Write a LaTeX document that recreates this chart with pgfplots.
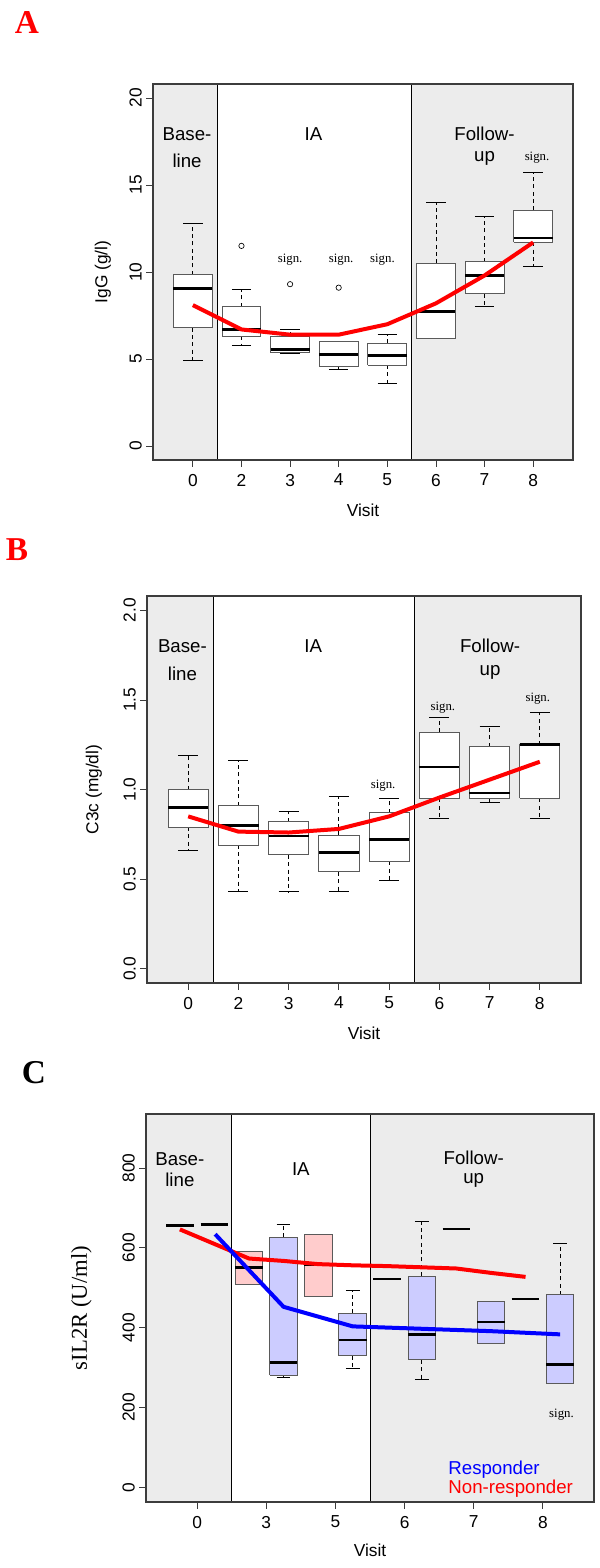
\documentclass[border=0pt]{standalone}
\usepackage{fontspec}
\setmainfont{Liberation Sans}
\newfontfamily\tnr{Liberation Serif}
\usepackage{pgfplots}
\pgfplotsset{compat=1.18}

\definecolor{bggray}{RGB}{236,236,236}
\definecolor{framec}{RGB}{60,60,60}
\definecolor{boxline}{RGB}{90,90,90}
\definecolor{blueF}{RGB}{204,204,255}
\definecolor{pinkF}{RGB}{255,204,204}

\newcommand{\tickfont}{\fontsize{13}{15}\selectfont}
\newcommand{\regfont}{\fontsize{14}{16}\selectfont}
\newcommand{\signfont}{\tnr\fontsize{9.6}{11}\selectfont}

\pgfplotsset{
  rpanel/.style={
    scale only axis, axis on top, anchor=south west,
    axis line style={framec, line width=0.8pt},
    tick style={framec, line width=0.6pt},
    tick align=outside, major tick length=4.9pt,
    tick pos=left,
    unbounded coords=jump,
    /pgf/number format/assume math mode=true,
    ticklabel style={font=\tickfont},
    yticklabel style={rotate=90, anchor=south},
    xticklabel style={anchor=north, yshift=-2pt},
    every axis x label/.style={at={(axis description cs:0.5,0)}, yshift=-37.5pt, anchor=center, font=\tickfont},
  },
  ylab/.style={every axis y label/.style={at={(axis description cs:0,0.5)}, xshift=-#1, rotate=90, anchor=center, font=\tickfont}},
  medline/.style={black, line width=2pt, no marks},
  whisk/.style={black, line width=0.6pt, dash pattern=on 3pt off 2.5pt, no marks},
  staple/.style={black, line width=0.6pt, no marks},
  wbox/.style={draw=boxline, line width=0.7pt, fill=white, no marks},
  pbox/.style={draw=boxline, line width=0.7pt, fill=pinkF, no marks},
  bbox/.style={draw=boxline, line width=0.7pt, fill=blueF, no marks},
}
\tikzset{reg/.style={font=\regfont, inner sep=0pt}}

\begin{document}
\begin{tikzpicture}
\useasboundingbox (0,0) rectangle (450pt,-1176pt);

\node[font=\tnr\bfseries\fontsize{25}{28}\selectfont, text=red] at (20.25pt,-16.5pt) {A};
\node[font=\tnr\bfseries\fontsize{25}{28}\selectfont, text=red] at (12.75pt,-412.5pt) {B};
\node[font=\tnr\bfseries\fontsize{25}{28}\selectfont, text=black] at (25.5pt,-804.75pt) {C};

% ---------------- Panel A ----------------
\begin{axis}[rpanel, ylab=37.5pt, at={(114.75pt,-345pt)}, width=315pt, height=282pt,
  xmin=0.18, xmax=8.82, ymin=-0.8, ymax=20.8,
  xtick={1,2,3,4,5,6,7,8}, xticklabels={0,2,3,4,5,6,7,8},
  ytick={0,5,10,15,20}, yticklabels={0,5,10,15,20},
  xlabel={Visit}, ylabel={IgG (g/l)}]
\fill[bggray] (axis cs:0,-5) rectangle (axis cs:1.5,25);
\fill[bggray] (axis cs:5.5,-5) rectangle (axis cs:9,25);
\draw[black, line width=0.6pt] (axis cs:1.5,-5) -- (axis cs:1.5,25);
\draw[black, line width=0.6pt] (axis cs:5.5,-5) -- (axis cs:5.5,25);
% whiskers (upper then lower, per visit)
\addplot[whisk] coordinates {
 (1,9.85) (1,12.8) (1,nan) (1,6.8) (1,4.9) (1,nan)
 (2,8.0) (2,9.0) (2,nan) (2,6.3) (2,5.8) (2,nan)
 (3,6.3) (3,6.7) (3,nan) (3,5.35) (3,5.3) (3,nan)
 (4,6.0) (4,6.0) (4,nan) (4,4.55) (4,4.4) (4,nan)
 (5,5.9) (5,6.4) (5,nan) (5,4.65) (5,3.6) (5,nan)
 (6,10.5) (6,14.0) (6,nan) (6,6.2) (6,6.2) (6,nan)
 (7,10.6) (7,13.2) (7,nan) (7,8.75) (7,8.0) (7,nan)
 (8,13.55) (8,15.7) (8,nan) (8,11.7) (8,10.3)};
\addplot[staple] coordinates {
 (0.8,12.8) (1.2,12.8) (1.2,nan) (0.8,4.9) (1.2,4.9) (1.2,nan)
 (1.8,9.0) (2.2,9.0) (2.2,nan) (1.8,5.8) (2.2,5.8) (2.2,nan)
 (2.8,6.7) (3.2,6.7) (3.2,nan) (2.8,5.3) (3.2,5.3) (3.2,nan)
 (3.8,6.0) (4.2,6.0) (4.2,nan) (3.8,4.4) (4.2,4.4) (4.2,nan)
 (4.8,6.4) (5.2,6.4) (5.2,nan) (4.8,3.6) (5.2,3.6) (5.2,nan)
 (5.8,14.0) (6.2,14.0) (6.2,nan) (5.8,6.2) (6.2,6.2) (6.2,nan)
 (6.8,13.2) (7.2,13.2) (7.2,nan) (6.8,8.0) (7.2,8.0) (7.2,nan)
 (7.8,15.7) (8.2,15.7) (8.2,nan) (7.8,10.3) (8.2,10.3)};
% boxes (lower quartile to upper quartile)
\addplot[wbox] coordinates {(0.6,6.8) (1.4,6.8) (1.4,9.85) (0.6,9.85) (0.6,6.8)};
\addplot[wbox] coordinates {(1.6,6.3) (2.4,6.3) (2.4,8.0) (1.6,8.0) (1.6,6.3)};
\addplot[wbox] coordinates {(2.6,5.35) (3.4,5.35) (3.4,6.3) (2.6,6.3) (2.6,5.35)};
\addplot[wbox] coordinates {(3.6,4.55) (4.4,4.55) (4.4,6.0) (3.6,6.0) (3.6,4.55)};
\addplot[wbox] coordinates {(4.6,4.65) (5.4,4.65) (5.4,5.9) (4.6,5.9) (4.6,4.65)};
\addplot[wbox] coordinates {(5.6,6.2) (6.4,6.2) (6.4,10.5) (5.6,10.5) (5.6,6.2)};
\addplot[wbox] coordinates {(6.6,8.75) (7.4,8.75) (7.4,10.6) (6.6,10.6) (6.6,8.75)};
\addplot[wbox] coordinates {(7.6,11.7) (8.4,11.7) (8.4,13.55) (7.6,13.55) (7.6,11.7)};
% medians
\addplot[medline] coordinates {
 (0.6,9.05) (1.4,9.05) (1.4,nan) (1.6,6.7) (2.4,6.7) (2.4,nan)
 (2.6,5.55) (3.4,5.55) (3.4,nan) (3.6,5.25) (4.4,5.25) (4.4,nan)
 (4.6,5.2) (5.4,5.2) (5.4,nan) (5.6,7.75) (6.4,7.75) (6.4,nan)
 (6.6,9.8) (7.4,9.8) (7.4,nan) (7.6,11.95) (8.4,11.95)};
% outliers
\addplot[only marks, mark=o, mark size=2pt, black, mark options={line width=0.5pt}] coordinates {(2,11.5) (3,9.3) (4,9.1)};
\addplot[red, line width=3pt, line join=round, no marks] coordinates {(1,8.1) (2,6.7) (3,6.4) (4,6.4) (5,7.0) (6,8.2) (7,9.8) (8,11.7)};
\node[reg] at (axis cs:0.88,17.93) {Base-};
\node[reg] at (axis cs:0.88,16.41) {line};
\node[reg] at (axis cs:3.48,17.93) {IA};
\node[reg] at (axis cs:7.0,17.93) {Follow-};
\node[reg] at (axis cs:7.0,16.55) {up};
\node[font=\signfont] at (axis cs:3.0,10.69) {sign.};
\node[font=\signfont] at (axis cs:4.05,10.69) {sign.};
\node[font=\signfont] at (axis cs:4.9,10.69) {sign.};
\node[font=\signfont] at (axis cs:8.08,16.58) {sign.};
\end{axis}

% ---------------- Panel B ----------------
\begin{axis}[rpanel, ylab=39.75pt, at={(110.25pt,-737.25pt)}, width=325.5pt, height=290.25pt,
  xmin=0.18, xmax=8.82, ymin=-0.08, ymax=2.08,
  xtick={1,2,3,4,5,6,7,8}, xticklabels={0,2,3,4,5,6,7,8},
  ytick={0,0.5,1,1.5,2}, yticklabels={0.0,0.5,1.0,1.5,2.0},
  xlabel={Visit}, ylabel={C3c (mg/dl)}]
\fill[bggray] (axis cs:0,-1) rectangle (axis cs:1.5,3);
\fill[bggray] (axis cs:5.5,-1) rectangle (axis cs:9,3);
\draw[black, line width=0.6pt] (axis cs:1.5,-1) -- (axis cs:1.5,3);
\draw[black, line width=0.6pt] (axis cs:5.5,-1) -- (axis cs:5.5,3);
\addplot[whisk] coordinates {
 (1,1.00) (1,1.19) (1,nan) (1,0.79) (1,0.66) (1,nan)
 (2,0.91) (2,1.16) (2,nan) (2,0.69) (2,0.43) (2,nan)
 (3,0.82) (3,0.88) (3,nan) (3,0.635) (3,0.43) (3,nan)
 (4,0.745) (4,0.96) (4,nan) (4,0.54) (4,0.43) (4,nan)
 (5,0.87) (5,0.95) (5,nan) (5,0.60) (5,0.49) (5,nan)
 (6,1.32) (6,1.40) (6,nan) (6,0.95) (6,0.84) (6,nan)
 (7,1.24) (7,1.35) (7,nan) (7,0.95) (7,0.93) (7,nan)
 (8,1.25) (8,1.43) (8,nan) (8,0.95) (8,0.84)};
\addplot[staple] coordinates {
 (0.8,1.19) (1.2,1.19) (1.2,nan) (0.8,0.66) (1.2,0.66) (1.2,nan)
 (1.8,1.16) (2.2,1.16) (2.2,nan) (1.8,0.43) (2.2,0.43) (2.2,nan)
 (2.8,0.88) (3.2,0.88) (3.2,nan) (2.8,0.43) (3.2,0.43) (3.2,nan)
 (3.8,0.96) (4.2,0.96) (4.2,nan) (3.8,0.43) (4.2,0.43) (4.2,nan)
 (4.8,0.95) (5.2,0.95) (5.2,nan) (4.8,0.49) (5.2,0.49) (5.2,nan)
 (5.8,1.40) (6.2,1.40) (6.2,nan) (5.8,0.84) (6.2,0.84) (6.2,nan)
 (6.8,1.35) (7.2,1.35) (7.2,nan) (6.8,0.93) (7.2,0.93) (7.2,nan)
 (7.8,1.43) (8.2,1.43) (8.2,nan) (7.8,0.84) (8.2,0.84)};
\addplot[wbox] coordinates {(0.6,0.79) (1.4,0.79) (1.4,1.00) (0.6,1.00) (0.6,0.79)};
\addplot[wbox] coordinates {(1.6,0.69) (2.4,0.69) (2.4,0.91) (1.6,0.91) (1.6,0.69)};
\addplot[wbox] coordinates {(2.6,0.635) (3.4,0.635) (3.4,0.82) (2.6,0.82) (2.6,0.635)};
\addplot[wbox] coordinates {(3.6,0.54) (4.4,0.54) (4.4,0.745) (3.6,0.745) (3.6,0.54)};
\addplot[wbox] coordinates {(4.6,0.60) (5.4,0.60) (5.4,0.87) (4.6,0.87) (4.6,0.60)};
\addplot[wbox] coordinates {(5.6,0.95) (6.4,0.95) (6.4,1.32) (5.6,1.32) (5.6,0.95)};
\addplot[wbox] coordinates {(6.6,0.95) (7.4,0.95) (7.4,1.24) (6.6,1.24) (6.6,0.95)};
\addplot[wbox] coordinates {(7.6,0.95) (8.4,0.95) (8.4,1.25) (7.6,1.25) (7.6,0.95)};
\addplot[medline] coordinates {
 (0.6,0.90) (1.4,0.90) (1.4,nan) (1.6,0.80) (2.4,0.80) (2.4,nan)
 (2.6,0.74) (3.4,0.74) (3.4,nan) (3.6,0.65) (4.4,0.65) (4.4,nan)
 (4.6,0.72) (5.4,0.72) (5.4,nan) (5.6,1.125) (6.4,1.125) (6.4,nan)
 (6.6,0.98) (7.4,0.98) (7.4,nan) (7.6,1.25) (8.4,1.25)};
\addplot[red, line width=3pt, line join=round, no marks] coordinates {(1,0.85) (2,0.765) (3,0.76) (4,0.78) (5,0.85) (6,0.955) (7,1.055) (8,1.155)};
\node[reg] at (axis cs:0.885,1.80) {Base-};
\node[reg] at (axis cs:0.885,1.645) {line};
\node[reg] at (axis cs:3.49,1.80) {IA};
\node[reg] at (axis cs:7.01,1.80) {Follow-};
\node[reg] at (axis cs:7.01,1.655) {up};
\node[font=\signfont] at (axis cs:4.88,1.022) {sign.};
\node[font=\signfont] at (axis cs:6.07,1.455) {sign.};
\node[font=\signfont] at (axis cs:7.96,1.506) {sign.};
\end{axis}

% ---------------- Panel C ----------------
\begin{axis}[rpanel, at={(109.5pt,-1126.5pt)}, width=336pt, height=291pt,
  xmin=0.26, xmax=6.74, ymin=-37, ymax=935,
  xtick={1,2,3,4,5,6}, xticklabels={0,3,5,6,7,8},
  ytick={0,200,400,600,800}, yticklabels={0,200,400,600,800},
  every axis y label/.style={at={(axis description cs:0,0.5)}, xshift=-48.5pt, rotate=90, anchor=center, font=\tnr\fontsize{17}{20}\selectfont},
  every axis x label/.append style={yshift=1.5pt},
  xlabel={Visit}, ylabel={sIL2R (U/ml)}]
\fill[bggray] (axis cs:0,-100) rectangle (axis cs:1.5,1000);
\fill[bggray] (axis cs:3.5,-100) rectangle (axis cs:7,1000);
\draw[black, line width=0.6pt] (axis cs:1.5,-100) -- (axis cs:1.5,1000);
\draw[black, line width=0.6pt] (axis cs:3.5,-100) -- (axis cs:3.5,1000);
% ---- non-responders (boxes centred at visit - 0.25)
\addplot[medline] coordinates {(0.55,655) (0.95,655)};
\addplot[pbox] coordinates {(1.55,508) (1.95,508) (1.95,591) (1.55,591) (1.55,508)};
\addplot[medline] coordinates {(1.55,550) (1.95,550)};
\addplot[pbox] coordinates {(2.55,478) (2.95,478) (2.95,634) (2.55,634) (2.55,478)};
\addplot[medline] coordinates {(2.55,557) (2.95,557)};
\addplot[medline] coordinates {(3.55,522) (3.95,522)};
\addplot[medline] coordinates {(4.55,647) (4.95,647)};
\addplot[medline] coordinates {(5.55,472) (5.95,472)};
% ---- responders (boxes centred at visit + 0.25)
\addplot[medline] coordinates {(1.05,659) (1.45,659)};
% visit 3
\addplot[whisk] coordinates {(2.25,626) (2.25,658)};
\addplot[whisk] coordinates {(2.25,280) (2.25,276)};
\addplot[staple] coordinates {(2.15,658) (2.35,658)};
\addplot[staple] coordinates {(2.15,276) (2.35,276)};
\addplot[bbox] coordinates {(2.05,280) (2.45,280) (2.45,626) (2.05,626) (2.05,280)};
\addplot[medline] coordinates {(2.05,313) (2.45,313)};
% visit 5
\addplot[whisk] coordinates {(3.25,436) (3.25,492)};
\addplot[whisk] coordinates {(3.25,330) (3.25,298)};
\addplot[staple] coordinates {(3.15,492) (3.35,492)};
\addplot[staple] coordinates {(3.15,298) (3.35,298)};
\addplot[bbox] coordinates {(3.05,330) (3.45,330) (3.45,436) (3.05,436) (3.05,330)};
\addplot[medline] coordinates {(3.05,369) (3.45,369)};
% visit 6
\addplot[whisk] coordinates {(4.25,529) (4.25,665)};
\addplot[whisk] coordinates {(4.25,319) (4.25,269)};
\addplot[staple] coordinates {(4.15,665) (4.35,665)};
\addplot[staple] coordinates {(4.15,269) (4.35,269)};
\addplot[bbox] coordinates {(4.05,319) (4.45,319) (4.45,529) (4.05,529) (4.05,319)};
\addplot[medline] coordinates {(4.05,383) (4.45,383)};
% visit 7
\addplot[bbox] coordinates {(5.05,361) (5.45,361) (5.45,466) (5.05,466) (5.05,361)};
\addplot[medline] coordinates {(5.05,414) (5.45,414)};
% visit 8
\addplot[whisk] coordinates {(6.25,482) (6.25,610)};
\addplot[staple] coordinates {(6.15,610) (6.35,610)};
\addplot[staple] coordinates {(6.15,261) (6.35,261)};
\addplot[bbox] coordinates {(6.05,261) (6.45,261) (6.45,482) (6.05,482) (6.05,261)};
\addplot[medline] coordinates {(6.05,308) (6.45,308)};
% smoothers
\addplot[red, line width=3pt, line join=round, no marks] coordinates {(0.75,646) (1.75,573) (2.25,567) (2.75,559) (3.25,556) (3.75,554) (4.25,551) (4.75,548) (5.25,537) (5.75,527)};
\addplot[blue, line width=3pt, line join=round, no marks] coordinates {(1.26,634) (2.25,452) (3.25,403) (3.75,400) (4.25,397) (4.75,394) (5.25,391) (5.75,387) (6.25,383)};
\node[reg] at (axis cs:0.75,822) {Base-};
\node[reg] at (axis cs:0.75,770) {line};
\node[reg] at (axis cs:2.50,796) {IA};
\node[reg] at (axis cs:5.0,826) {Follow-};
\node[reg] at (axis cs:5.0,768) {up};
\node[font=\signfont] at (axis cs:6.27,183) {sign.};
\node[anchor=west, inner sep=0pt, font=\fontsize{14}{16}\selectfont, text=blue] at (axis cs:4.63,45) {Responder};
\node[anchor=west, inner sep=0pt, font=\fontsize{14}{16}\selectfont, text=red] at (axis cs:4.63,-3) {Non-responder};
\end{axis}
\end{tikzpicture}
\end{document}
